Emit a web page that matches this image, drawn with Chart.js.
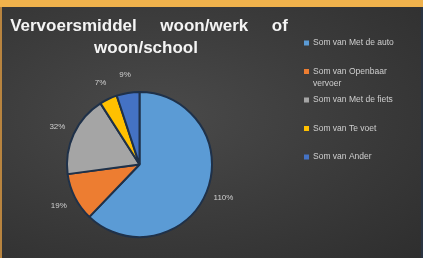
<!DOCTYPE html>
<html>
<head>
  <title>Vervoersmiddel woon/werk of woon/school</title>
  <script src="https://cdn.jsdelivr.net/npm/chart.js"></script>
  <style>
    html, body {
      margin: 0;
      padding: 0;
      background: #2c2c2c;
    }
    .frame {
      position: relative;
      width: 423px;
      height: 258px;
      overflow: hidden;
      background: radial-gradient(ellipse at 38% 45%, #4a4a4a 0%, #3d3d3d 45%, #2e2e2e 100%);
      box-shadow: inset 0 7px 0 #f0b24c, inset 2px 0 0 #b8843f, inset -2px 0 0 #2a3442;
    }
    .frame canvas {
      position: absolute;
      left: 0;
      top: 0;
    }
  </style>
</head>
<body>
  <div class="frame">
    <canvas id="pieChart" width="423" height="258"></canvas>
  </div>

  <script>
    // data
    const categories = ['Som van Met de auto', 'Som van Openbaar vervoer', 'Som van Met de fiets', 'Som van Te voet', 'Som van Ander'];
    const legendLines = [['Som van Met de auto'], ['Som van Openbaar', 'vervoer'], ['Som van Met de fiets'], ['Som van Te voet'], ['Som van Ander']];
    const values = [110, 19, 32, 7, 9];
    const sliceColors = ['#5b9bd5', '#ed7d31', '#a5a5a5', '#ffc000', '#4472c4'];
    const titleLines = ['Vervoersmiddel     woon/werk     of', 'woon/school'];

    // title drawn left of the legend, like the spreadsheet layout
    const titlePlugin = {
      id: 'sheetTitle',
      afterDraw(chart) {
        const ctx = chart.ctx;
        ctx.save();
        ctx.fillStyle = '#f4f4f4';
        ctx.font = 'bold 17px "Liberation Sans", Arial, sans-serif';
        ctx.textAlign = 'center';
        ctx.textBaseline = 'alphabetic';
        ctx.fillText(titleLines[0], 149, 31);
        ctx.fillText(titleLines[1], 146, 53);
        ctx.restore();
      }
    };

    // legend on the right, with a wrapped entry
    const sideLegend = {
      id: 'sideLegend',
      afterDraw(chart) {
        const ctx = chart.ctx;
        const colors = chart.data.datasets[0].backgroundColor;
        ctx.save();
        ctx.font = '8.5px "Liberation Sans", Arial, sans-serif';
        ctx.textBaseline = 'middle';
        ctx.textAlign = 'left';
        legendLines.forEach((lines, i) => {
          const y = 43 + i * 28.5;
          ctx.fillStyle = colors[i];
          ctx.fillRect(304, y - 2.5, 5, 5);
          ctx.fillStyle = '#cfcfcf';
          lines.forEach((line, j) => {
            ctx.fillText(line, 313, y + j * 12);
          });
        });
        ctx.restore();
      }
    };

    // value labels outside each slice
    const outsideLabels = {
      id: 'outsideLabels',
      afterDatasetsDraw(chart) {
        const ctx = chart.ctx;
        const meta = chart.getDatasetMeta(0);
        const data = chart.data.datasets[0].data;
        ctx.save();
        ctx.font = '8px "Liberation Sans", Arial, sans-serif';
        ctx.fillStyle = '#d0d0d0';
        ctx.textAlign = 'center';
        ctx.textBaseline = 'middle';
        meta.data.forEach((arc, i) => {
          const p = arc.getProps(['x', 'y', 'startAngle', 'endAngle', 'outerRadius'], true);
          const mid = (p.startAngle + p.endAngle) / 2;
          const r = p.outerRadius + 18;
          ctx.fillText(data[i] + '%', p.x + Math.cos(mid) * r, p.y + Math.sin(mid) * r);
        });
        ctx.restore();
      }
    };

    const ctx = document.getElementById('pieChart').getContext('2d');
    const pieChart = new Chart(ctx, {
      type: 'pie',
      data: {
        labels: categories,
        datasets: [{
          data: values,
          backgroundColor: sliceColors,
          borderColor: '#1f3149',
          borderWidth: 2
        }]
      },
      options: {
        responsive: false,
        animation: false,
        layout: {
          padding: { left: 66, right: 210, top: 91, bottom: 20 }
        },
        plugins: {
          legend: { display: false },
          title: { display: false },
          tooltip: { enabled: false }
        }
      },
      plugins: [titlePlugin, sideLegend, outsideLabels]
    });
  </script>
</body>
</html>
